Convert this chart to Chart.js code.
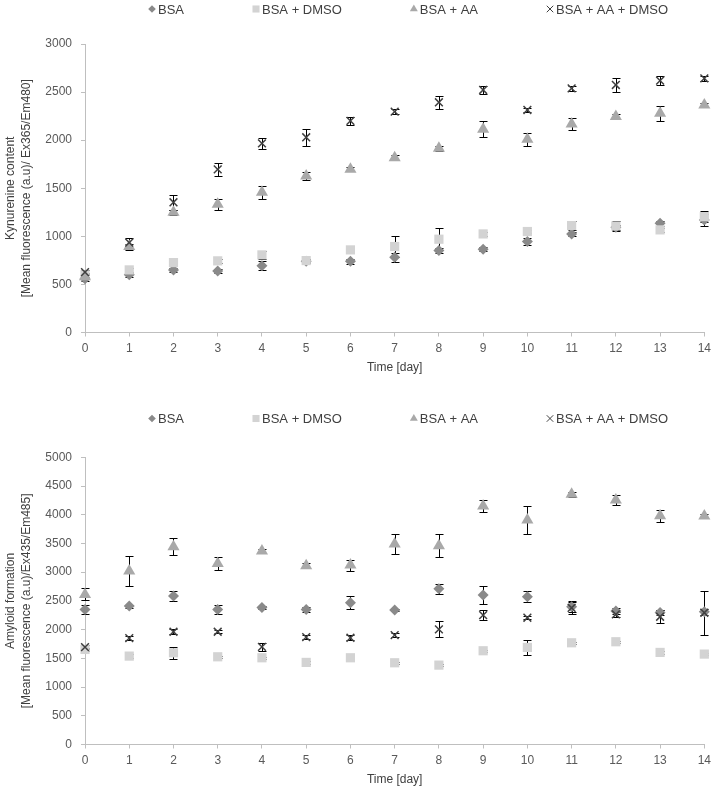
<!DOCTYPE html>
<html>
<head>
<meta charset="utf-8">
<script src="https://cdn.jsdelivr.net/npm/chart.js"></script>
<style>
html,body{margin:0;padding:0;background:#fff;}
canvas{display:block;}
</style>
</head>
<body>
<canvas id="kyn" width="716" height="377"></canvas>
<canvas id="amy" width="716" height="412"></canvas>
<script>
// days of incubation
const days = [0,1,2,3,4,5,6,7,8,9,10,11,12,13,14];
const seriesNames = ['BSA','BSA + DMSO','BSA + AA','BSA + AA + DMSO'];

// kynurenine content (upper chart)
const kynBSA      = [560, 600, 650, 640, 695, 740, 741, 783, 852, 866, 946, 1025, 1095, 1136, 1170];
const kynDMSO     = [600, 651, 727, 745, 807, 748, 859, 894, 970, 1025, 1050, 1112, 1108, 1067, 1205];
const kynAA       = [580, 893, 1250, 1333, 1458, 1628, 1697, 1818, 1915, 2113, 2009, 2168, 2245, 2279, 2366];
const kynAADMSO   = [627, 935, 1354, 1697, 1967, 2030, 2200, 2297, 2394, 2522, 2314, 2539, 2574, 2619, 2643];
const kynErrBSA   = [20, 20, 20, 25, 50, 20, 25, 45, 30, 20, 40, 20, 25, 25, 60];
const kynErrDMSO  = [20, 20, 20, 20, 40, 20, 20, 110, 115, 20, 20, 50, 55, 20, 60];
const kynErrAA    = [20, 30, 25, 55, 65, 40, 20, 25, 25, 85, 65, 60, 25, 80, 20];
const kynErrAADMSO= [20, 52, 78, 70, 60, 90, 40, 25, 70, 40, 25, 25, 70, 45, 25];

// amyloid formation (lower chart)
const amyBSA      = [2352, 2410, 2584, 2352, 2387, 2352, 2468, 2340, 2712, 2602, 2573, 2400, 2323, 2300, 2311];
const amyDMSO     = [1655, 1539, 1597, 1527, 1510, 1429, 1510, 1423, 1382, 1632, 1690, 1771, 1789, 1603, 1574];
const amyAA       = [2613, 3020, 3444, 3153, 3368, 3113, 3124, 3490, 3461, 4152, 3908, 4355, 4257, 3984, 3978];
const amyAADMSO   = [1696, 1852, 1963, 1963, 1701, 1870, 1858, 1905, 2003, 2253, 2207, 2380, 2265, 2224, 2294];
const amyErrBSA   = [85, 25, 80, 80, 20, 45, 115, 20, 90, 160, 95, 100, 50, 50, 50];
const amyErrDMSO  = [30, 30, 100, 20, 20, 20, 20, 20, 20, 20, 125, 20, 20, 30, 20];
const amyErrAA    = [105, 267, 145, 110, 30, 40, 95, 180, 200, 100, 250, 40, 95, 105, 35];
const amyErrAADMSO= [40, 40, 40, 30, 65, 30, 40, 30, 140, 80, 30, 100, 50, 110, 385];

const FONT = '"Liberation Sans", Arial, Helvetica, sans-serif';

// marker look for each series (same order as seriesNames)
const markers = [
  {pointStyle:'rectRot',  radius:5.5, legendRadius:3.8, fill:'#8a8a8a', border:'#8a8a8a', bw:0},
  {pointStyle:'rect',     radius:6.5, legendRadius:5,   fill:'#d3d3d3', border:'#d3d3d3', bw:0},
  {pointStyle:'triangle', radius:7,   legendRadius:4.6, fill:'#a9a9a9', border:'#a9a9a9', bw:0},
  {pointStyle:'crossRot', radius:5.5, legendRadius:4.6, fill:'#404040', border:'#404040', bw:1.5},
];

function makeSets(values, errors){
  // order: last series drawn on top (like the original)
  return values.map((vals, k) => ({
    label: seriesNames[k],
    data: days.map((d, i) => ({x: d, y: vals[i]})),
    errors: errors[k],
    order: 4 - k,
    clip: false,
    pointStyle: markers[k].pointStyle,
    pointRadius: markers[k].radius,
    pointBackgroundColor: markers[k].fill,
    pointBorderColor: markers[k].border,
    pointBorderWidth: markers[k].bw,
    backgroundColor: markers[k].fill,
    borderColor: markers[k].border,
    showLine: false
  }));
}

// vertical error bars with caps, drawn under the markers
const errorBars = {
  id: 'errorBars',
  beforeDatasetsDraw(chart){
    const ctx = chart.ctx;
    const xs = chart.scales.x, ys = chart.scales.y;
    ctx.save();
    ctx.strokeStyle = '#000';
    ctx.lineWidth = 1;
    chart.data.datasets.forEach(ds => {
      ds.data.forEach((p, i) => {
        const e = ds.errors[i];
        const px = Math.round(xs.getPixelForValue(p.x)) + 0.5;
        const top = Math.round(ys.getPixelForValue(p.y + e)) + 0.5;
        const bot = Math.round(ys.getPixelForValue(p.y - e)) + 0.5;
        ctx.beginPath();
        ctx.moveTo(px, top); ctx.lineTo(px, bot);
        ctx.moveTo(px - 4, top); ctx.lineTo(px + 4, top);
        ctx.moveTo(px - 4, bot); ctx.lineTo(px + 4, bot);
        ctx.stroke();
      });
    });
    ctx.restore();
  }
};

// legend row, spaced like the original
const rowLegend = {
  id: 'rowLegend',
  afterDraw(chart, args, opts){
    const ctx = chart.ctx;
    ctx.save();
    ctx.font = '13px ' + FONT;
    ctx.textBaseline = 'middle';
    ctx.textAlign = 'left';
    let cx = opts.x;
    chart.data.datasets.forEach((ds, k) => {
      const m = markers[k];
      ctx.fillStyle = m.fill;
      ctx.strokeStyle = m.border;
      ctx.lineWidth = m.bw ? 1 : 0;
      Chart.helpers.drawPoint(ctx, {pointStyle: m.pointStyle, radius: m.legendRadius, borderWidth: m.bw ? 1 : 0, rotation: 0}, cx, opts.y);
      ctx.fillStyle = '#404040';
      ctx.fillText(ds.label, cx + 6, opts.y + 1);
      cx += 6 + ctx.measureText(ds.label).width + 72;
    });
    ctx.restore();
  }
};

function drawChart(canvas, sets, yMax, yTitle, padTop, legendY){
  new Chart(document.getElementById(canvas), {
    type: 'scatter',
    data: {datasets: sets},
    options: {
      responsive: false,
      animation: false,
      events: [],
      layout: {padding: {top: padTop, right: 8, left: 0, bottom: 0}},
      plugins: {
        legend: {display: false},
        tooltip: {enabled: false},
        rowLegend: {x: 152, y: legendY}
      },
      scales: {
        x: {
          type: 'linear', min: 0, max: 14,
          afterFit: s => { s.height = 44.5; },
          border: {color: '#bfbfbf', width: 1},
          grid: {drawOnChartArea: false, tickLength: 4, color: '#bfbfbf'},
          ticks: {stepSize: 1, padding: 5, color: '#595959', font: {size: 12, family: FONT}},
          title: {display: true, text: 'Time [day]', color: '#404040', padding: {top: 0, bottom: 2},
                  font: {size: 12, family: FONT}}
        },
        y: {
          min: 0, max: yMax,
          afterFit: s => { s.width = 85; },
          border: {color: '#bfbfbf', width: 1},
          grid: {drawOnChartArea: false, tickLength: 4, color: '#bfbfbf'},
          ticks: {stepSize: 500, padding: 9, color: '#595959', font: {size: 12, family: FONT},
                  callback: v => String(v)},
          title: {display: true, text: yTitle, color: '#404040', padding: {top: 3, bottom: 0},
                  font: {size: 12, family: FONT, lineHeight: 1.3}}
        }
      }
    },
    plugins: [errorBars, rowLegend]
  });
}

drawChart('kyn',
  makeSets([kynBSA, kynDMSO, kynAA, kynAADMSO], [kynErrBSA, kynErrDMSO, kynErrAA, kynErrAADMSO]),
  3000, ['Kynurenine content', '[Mean fluorescence (a.u)/ Ex365/Em480]'], 44, 9);

drawChart('amy',
  makeSets([amyBSA, amyDMSO, amyAA, amyAADMSO], [amyErrBSA, amyErrDMSO, amyErrAA, amyErrAADMSO]),
  5000, ['Amyloid formation', '[Mean fluorescence (a.u)/Ex435/Em485]'], 80.3, 41.5);
</script>
</body>
</html>
